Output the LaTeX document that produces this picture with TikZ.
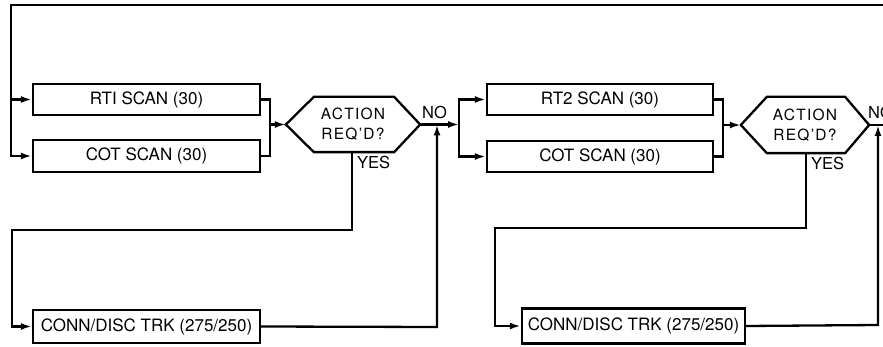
\documentclass[tikz,border=0pt]{standalone}
\usepackage{fontspec}
\setmainfont{TeX Gyre Heros}
\usetikzlibrary{arrows.meta}
\begin{document}
\begin{tikzpicture}[x=1pt,y=-1pt,
  line width=2.3pt,
  box/.style={draw, rectangle, inner sep=0pt, font=\fontsize{17}{20}\selectfont},
  hexbox/.style={rectangle, inner sep=0pt, align=center, font=\fontsize{15.5}{19}\selectfont\addfontfeature{LetterSpace=8}},
  lbl/.style={inner sep=0pt, font=\fontsize{16.5}{19}\selectfont},
  wire/.style={line width=2.3pt},
  arr/.style={wire, -{Latex[length=11pt,width=7pt]}},
  ]
\useasboundingbox (0,0) rectangle (883,347);

% boxes
\node[box, minimum width=227pt, minimum height=31pt] (rti) at (146.5,99.5) {RTI SCAN (30)};
\node[box, minimum width=227pt, minimum height=32pt] (cot1) at (146.5,156) {COT SCAN (30)};
\node[box, minimum width=226pt, minimum height=31pt] (rt2) at (600,99.5) {RT2 SCAN (30)};
\node[box, minimum width=226pt, minimum height=31pt] (cot2) at (600,156.5) {COT SCAN (30)};
\node[box, minimum width=227pt, minimum height=33pt] (conn1) at (146.5,326.5) {CONN/DISC TRK (275/250)};
\node[box, minimum width=223pt, minimum height=35pt] (conn2) at (633.5,326) {CONN/DISC TRK (275/250)};

% decision hexagons
\node[hexbox, minimum width=132pt, minimum height=53pt] (hex1) at (353,124.5) {ACTION\\[1pt]REQ’D?};
\draw (hex1.west) -- ([xshift=28pt]hex1.north west) -- ([xshift=-26pt]hex1.north east) -- (hex1.east)
  -- ([xshift=-26pt]hex1.south east) -- ([xshift=28pt]hex1.south west) -- cycle;
\node[hexbox, minimum width=126pt, minimum height=54pt] (hex2) at (805,125) {ACTION\\[1pt]REQ’D?};
\draw (hex2.west) -- ([xshift=26pt]hex2.north west) -- ([xshift=-24pt]hex2.north east) -- (hex2.east)
  -- ([xshift=-24pt]hex2.south east) -- ([xshift=26pt]hex2.south west) -- cycle;

% coordinates
\coordinate (topR) at (884,5);
\coordinate (topL) at (11,5);
\coordinate (m1) at (270,124.5);
\coordinate (f1) at (459,124.5);
\coordinate (m2) at (723,125);
\coordinate (outR) at (884,125);
\coordinate (y1) at (352,230);
\coordinate (y1l) at (12,230);
\coordinate (r1) at (437,327);
\coordinate (y2) at (806,228);
\coordinate (y2l) at (495,228);
\coordinate (r2) at (878,325);

% top feedback and inputs
\draw[arr] (topR) -- (topL) |- (cot1.west);
\draw[arr] (topL |- rti.west) -- (rti.west);

% merge first pair
\draw[wire] (rti.east) -| (m1) |- (cot1.east);
\draw[arr] (m1) -- (hex1.west);

% NO path to second stage
\draw[arr] (hex1.east) -- (f1);
\draw[arr] (f1) |- (rt2.west);
\draw[arr] (f1) |- (cot2.west);

% YES path 1
\draw[arr] (hex1.south -| y1) -- (y1) -- (y1l) |- (conn1.west);
\draw[arr] (conn1.east) -- (r1) -- (r1 |- hex1.east);

% merge second pair
\draw[wire] (rt2.east) -| (m2) |- (cot2.east);
\draw[arr] (m2) -- (hex2.west);
\draw[wire] (hex2.east) -- (outR);

% YES path 2
\draw[arr] (hex2.south -| y2) -- (y2) -- (y2l) |- (conn2.west);
\draw[arr] (conn2.east) -- (r2) -- (r2 |- hex2.east);

% labels
\node[lbl, anchor=south west] (no1) at (421,120) {NO};
\node[lbl, anchor=north west] (yes1) at (356,155) {YES};
\node[lbl, anchor=south west] (no2) at (867,120) {NO};
\node[lbl, anchor=north west] (yes2) at (810,156) {YES};
\end{tikzpicture}
\end{document}
